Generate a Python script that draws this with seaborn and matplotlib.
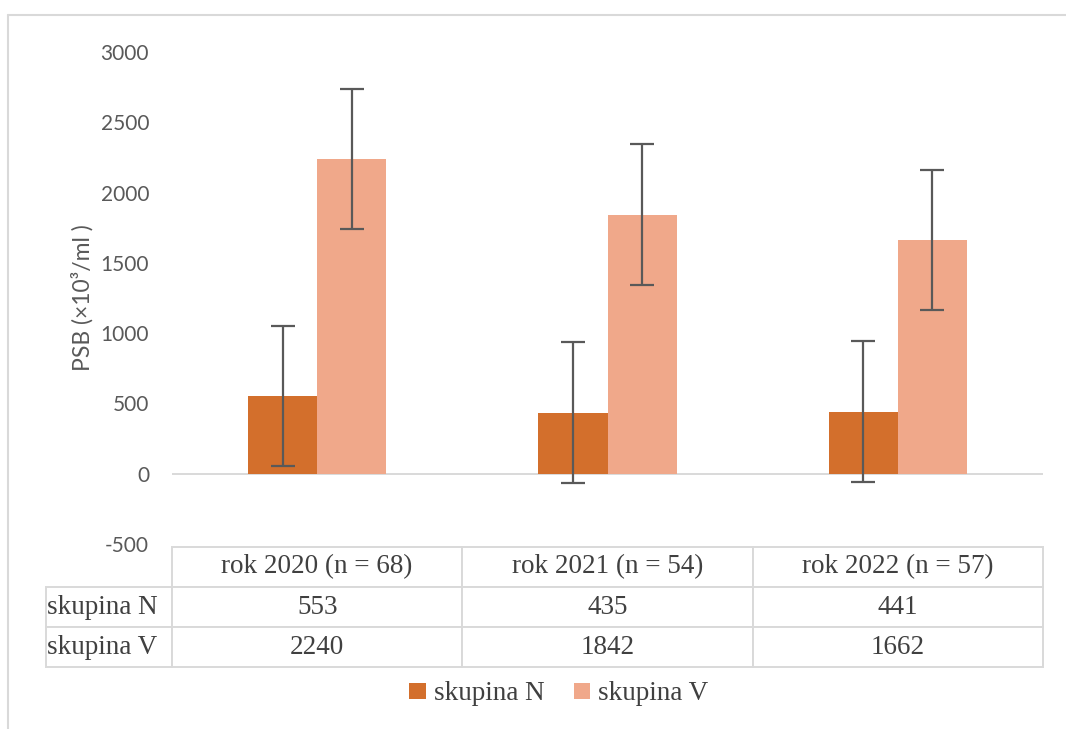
import pandas as pd
import numpy as np
import seaborn as sns
import matplotlib
matplotlib.use("Agg")
from matplotlib import pyplot as plt
from matplotlib.lines import Line2D

# Data
years = ['rok 2020 (n = 68)', 'rok 2021 (n = 54)', 'rok 2022 (n = 57)']
groups = ['skupina N', 'skupina V']
psb_n = [553, 435, 441]
psb_v = [2240, 1842, 1662]
err_n = [500, 500, 500]
err_v = [500, 500, 500]

colors = {'skupina N': '#D36F2C', 'skupina V': '#F0A88A'}

df = pd.DataFrame({
    'year': years * 2,
    'skupina': [groups[0]] * 3 + [groups[1]] * 3,
    'psb': psb_n + psb_v,
})

sns.set_style('white')
plt.rcParams['font.family'] = ['Lato', 'DejaVu Sans']
plt.rcParams['axes.unicode_minus'] = False

fig = plt.figure(figsize=(10.66, 7.29), dpi=100)
W, H = 1066, 729
ax = fig.add_axes([172 / W, 1 - 544 / H, (1043 - 172) / W, (544 - 52) / H])

sns.barplot(data=df, x='year', y='psb', hue='skupina', order=years,
            hue_order=groups, palette=colors, width=0.476, errorbar=None,
            saturation=1, linewidth=0, ax=ax)

# Error bars on top of each bar
for cont, errs in zip(ax.containers, [err_n, err_v]):
    for patch, e in zip(cont.patches, errs):
        xc = patch.get_x() + patch.get_width() / 2
        ax.errorbar(xc, patch.get_height(), yerr=e, color='#595959',
                    elinewidth=1.6, capsize=8.5, capthick=1.6, zorder=5)

ax.set_xlim(-0.5, 2.5)
ax.set_ylim(-500, 3000)
ax.set_yticks(np.arange(-500, 3001, 500))
ax.tick_params(axis='y', length=0, pad=16.5, labelsize=15, labelcolor='#595959')
ax.set_xticks([])
ax.set_xlabel('')
ax.set_ylabel('PSB (×10³/ml )', fontsize=16.5, color='#595959', labelpad=5)
for s in ax.spines.values():
    s.set_visible(False)
ax.axhline(0, color='#d9d9d9', lw=1.4, zorder=0)

# Data table below the plot
handles, labels = ax.get_legend_handles_labels()
ax.get_legend().remove()

cell_text = [[''] + years,
             ['skupina N'] + [str(v) for v in psb_n],
             ['skupina V'] + [str(v) for v in psb_v]]
aw = 1043 - 172
ah = 544 - 52
col_w = [126 / 997] + [290.3 / 997] * 3
tbl = ax.table(cellText=cell_text, colWidths=col_w, cellLoc='center',
               bbox=[(46 - 172) / aw, (544 - 667) / ah, 997 / aw, 120 / ah])
tbl.auto_set_font_size(False)
for (r, c), cell in tbl.get_celld().items():
    cell.set_edgecolor('#d9d9d9')
    cell.set_linewidth(1.4)
    cell.get_text().set_fontfamily('Liberation Serif')
    cell.get_text().set_fontsize(19.5)
    cell.get_text().set_color('#404040')
    if c == 0:
        cell.PAD = 0.005
        cell.get_text().set_ha('left')
        cell._loc = 'left'
    if r == 0 and c == 0:
        cell.visible_edges = 'open'

fig.legend(handles, labels, loc='center', bbox_to_anchor=(559 / W, 1 - 694 / H),
           ncol=2, frameon=False, handlelength=0.6, handleheight=0.5,
           handletextpad=0.3, columnspacing=1.1,
           prop={'family': 'Liberation Serif', 'size': 19.5})
for t in fig.legends[0].get_texts():
    t.set_color('#404040')

# Outer chart frame (top and left edges visible)
fig.add_artist(Line2D([8 / W, 1.0], [1 - 15 / H, 1 - 15 / H], color='#d9d9d9', lw=1.5))
fig.add_artist(Line2D([8 / W, 8 / W], [1 - 15 / H, 0.0], color='#d9d9d9', lw=1.5))

fig.savefig('out.png', dpi=100)
